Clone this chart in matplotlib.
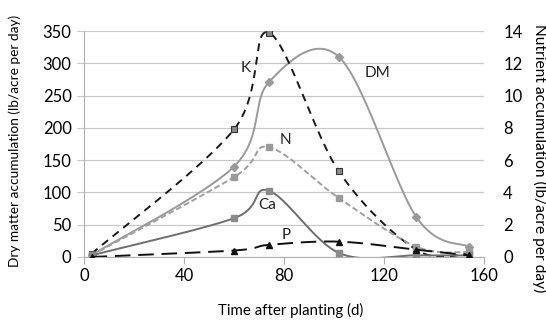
import numpy as np
import matplotlib
matplotlib.use("Agg")
import matplotlib.pyplot as plt

plt.rcParams['font.family'] = ['Lato', 'DejaVu Sans']

# data
days = [3, 60, 74, 102, 133, 154]
dm = [3, 140, 271, 310, 62, 16]          # left axis
n_vals = [0.1, 4.95, 6.8, 3.65, 0.64, 0.3]  # right axis
k_vals = [0.2, 7.9, 13.9, 5.3, 0.45, 0.2]
ca_vals = [0.1, 2.4, 4.1, 0.25, 0.1, 0.1]
p_vals = [0.0, 0.4, 0.75, 0.95, 0.45, 0.1]

x_ticks = [0, 40, 80, 120, 160]
left_ticks = [0, 50, 100, 150, 200, 250, 300, 350]
right_ticks = [0, 2, 4, 6, 8, 10, 12, 14]


def smooth(xs, ys, steps=30):
    # excel style smoothed line (catmull-rom as bezier)
    xs = np.asarray(xs, float)
    ys = np.asarray(ys, float)
    pts = np.column_stack([xs, ys])
    pts = np.vstack([pts[0], pts, pts[-1]])
    out = []
    t = np.linspace(0, 1, steps)[:, None]
    for i in range(1, len(pts) - 2):
        p0, p1, p2, p3 = pts[i - 1], pts[i], pts[i + 1], pts[i + 2]
        c1 = p1 + (p2 - p0) / 6
        c2 = p2 - (p3 - p1) / 6
        seg = ((1 - t) ** 3) * p1 + 3 * ((1 - t) ** 2) * t * c1 \
            + 3 * (1 - t) * t ** 2 * c2 + t ** 3 * p2
        out.append(seg)
    out = np.vstack(out)
    return out[:, 0], out[:, 1]


fig = plt.figure(figsize=(5.46, 3.2), dpi=100)
ax = fig.add_axes([0.154, 0.197, 0.732, 0.706])
ax2 = ax.twinx()

# dry matter on left axis
sx, sy = smooth(days, dm)
ax.plot(sx, sy, color='#9a9a9a', lw=1.4, zorder=3)
ax.plot(days, dm, ls='none', marker='D', ms=4, color='#9a9a9a', zorder=4)

# nutrients on right axis
sx, sy = smooth(days, k_vals)
ax2.plot(sx, sy, color='#1a1a1a', lw=1.4, dashes=(4, 3))
ax2.plot(days, k_vals, ls='none', marker='s', ms=4.5, mfc='#8a8a8a', mec='#333333', mew=0.8)

sx, sy = smooth(days, n_vals)
ax2.plot(sx, sy, color='#a0a0a0', lw=1.4, dashes=(3, 1.5))
ax2.plot(days, n_vals, ls='none', marker='s', ms=5, color='#9a9a9a')

sx, sy = smooth(days, ca_vals)
ax2.plot(sx, sy, color='#6e6e6e', lw=1.4)
ax2.plot(days, ca_vals, ls='none', marker='s', ms=4.5, color='#8a8a8a')

sx, sy = smooth(days, p_vals)
ax2.plot(sx, sy, color='#111111', lw=1.4, dashes=(8, 4))
ax2.plot(days, p_vals, ls='none', marker='^', ms=4, color='#111111')

# series labels
ax.text(64.5, 292, 'K', fontsize=11, ha='center', va='center', color='#222222')
ax.text(117.5, 285, 'DM', fontsize=11, ha='center', va='center', color='#222222')
ax.text(80.5, 181, 'N', fontsize=11, ha='center', va='center', color='#222222')
ax.text(73.5, 80, 'Ca', fontsize=11, ha='center', va='center', color='#222222')
ax.text(81, 34, 'P', fontsize=11, ha='center', va='center', color='#222222')

ax.set_xlim(0, 160)
ax.set_ylim(0, 350)
ax2.set_ylim(0, 14)
ax.set_xticks(x_ticks)
ax.set_yticks(left_ticks)
ax2.set_yticks(right_ticks)

ax.yaxis.grid(True, color='#c8c8c8', lw=0.9)
ax.set_axisbelow(True)

for a in (ax, ax2):
    a.spines['top'].set_visible(False)
    a.spines['right'].set_visible(False)
ax2.spines['left'].set_visible(False)
ax2.spines['bottom'].set_visible(False)
ax.spines['left'].set_color('#b0b0b0')
ax.spines['bottom'].set_color('#b0b0b0')

ax.tick_params(axis='x', length=5, color='#b0b0b0', labelsize=12, pad=3)
ax.tick_params(axis='y', length=5, color='#c8c8c8', labelsize=12, pad=4)
ax2.tick_params(axis='y', length=0, labelsize=12, pad=14)

fig.text(0.027, 0.559, 'Dry matter accumulation (lb/acre per day)', rotation=90,
         ha='center', va='center', fontsize=9.8)
fig.text(0.988, 0.506, 'Nutrient accumulation (lb/acre per day)', rotation=270,
         ha='center', va='center', fontsize=11.2)
fig.text(0.533, 0.031, 'Time after planting (d)', ha='center', va='center', fontsize=10.8)

fig.savefig('out.png', dpi=100)
